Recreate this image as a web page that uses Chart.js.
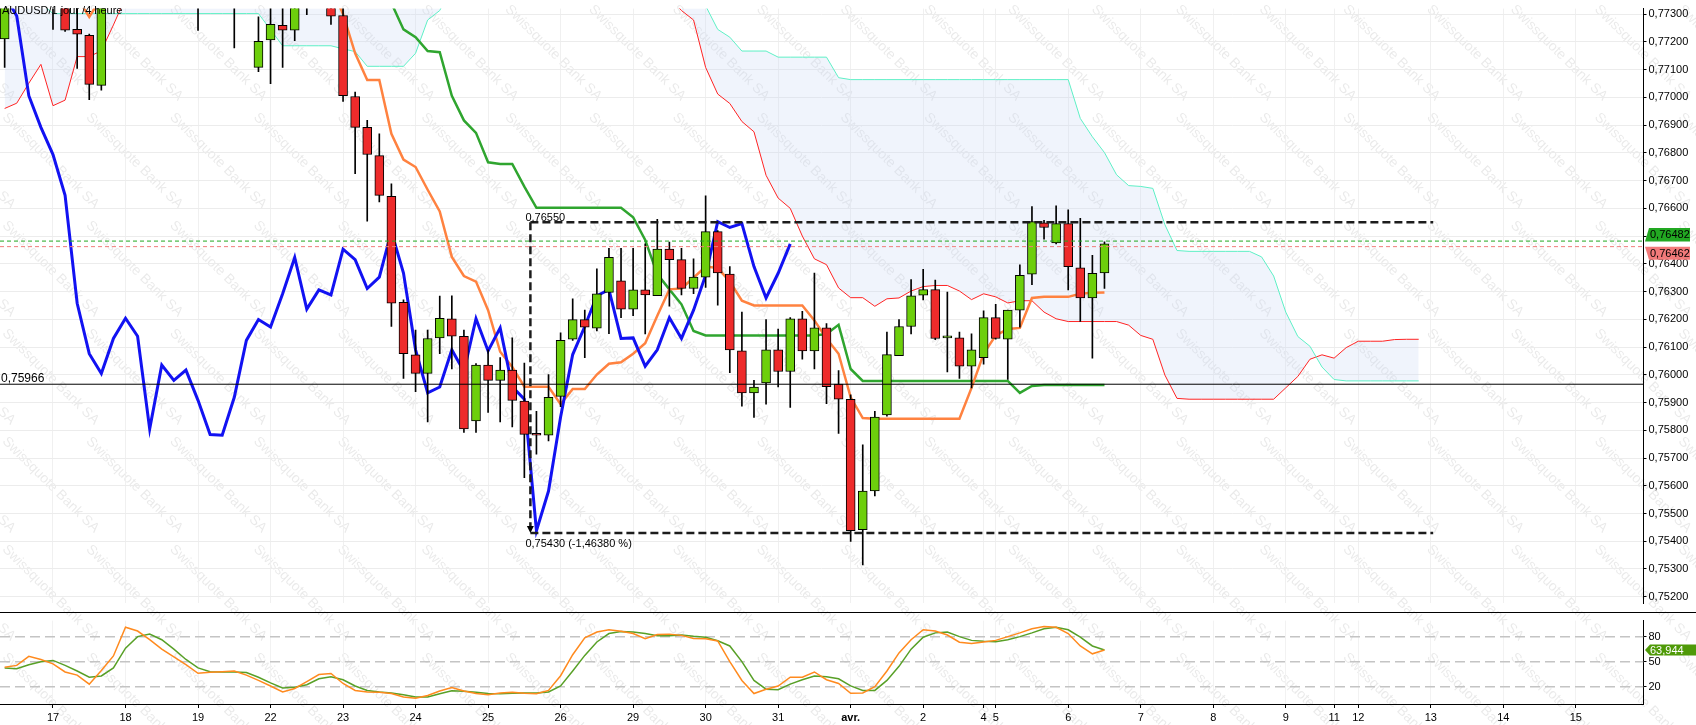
<!DOCTYPE html>
<html lang="fr">
<head>
    <meta charset="UTF-8">
    <title>AUDUSD 4 heures - Ichimoku</title>
    <script src="https://cdn.jsdelivr.net/npm/chart.js@4"></script>
    <style>
        html, body { margin: 0; padding: 0; background: #fff; overflow: hidden; }
        .master { position: relative; width: 1696px; height: 725px; }
        .master canvas { position: absolute; left: 0; }
        #mark { top: 0; }
        #priceChart { top: 0; }
        #stochChart { top: 612px; }
    </style>
</head>
<body>
    <div class="master">
        <canvas id="mark" width="1696" height="725"></canvas>
        <canvas id="priceChart" width="1696" height="612"></canvas>
        <canvas id="stochChart" width="1696" height="113"></canvas>
    </div>

    <script>
        // candle index 0 = first 4h candle of 17 March, one step = 4 hours
        const FIRST = -4;
        const SHIFT = 26;

        const dayTicks  = [0, 6, 12, 18, 24, 30, 36, 42, 48, 54, 60, 66, 72, 77, 78, 84, 90, 96, 102, 106, 108, 114, 120, 126];
        const dayLabels = ['17', '18', '19', '22', '23', '24', '25', '26', '29', '30', '31', 'avr.', '2', '4', '5', '6', '7', '8', '9', '11', '12', '13', '14', '15'];
        const priceTicks = [0.752, 0.753, 0.754, 0.755, 0.756, 0.757, 0.758, 0.759, 0.760, 0.761, 0.762,
                            0.763, 0.764, 0.765, 0.766, 0.767, 0.768, 0.769, 0.770, 0.771, 0.772, 0.773];
        const stochTicks = [20, 50, 80];

        const opens = [
            0.77211, 0.7745, 0.7742, 0.7747, 0.7741, 0.7738, 0.77245, 0.77224, 0.77043, 0.7736,
            0.7742, 0.7747, 0.7744, 0.7740, 0.7743, 0.7739, 0.7737, 0.7735, 0.7738, 0.7736,
            0.7734, 0.77108, 0.77207, 0.7726, 0.77242, 0.7736, 0.7739, 0.7737, 0.77295, 0.77003,
            0.76892, 0.7679, 0.76643, 0.76261, 0.76072, 0.76005, 0.76133, 0.76202, 0.76139, 0.75834,
            0.76035, 0.7598, 0.76017, 0.75905, 0.75783, 0.75782, 0.75922, 0.76128, 0.76199, 0.76168,
            0.76297, 0.76339, 0.76237, 0.76306, 0.76285, 0.76453, 0.76415, 0.76311, 0.76352, 0.76516,
            0.76363, 0.76086, 0.75935, 0.75971, 0.7609, 0.76012, 0.76202, 0.76086, 0.76169, 0.75967,
            0.75912, 0.75442, 0.75581, 0.75855, 0.76069, 0.76174, 0.76287, 0.76307, 0.76133, 0.76133,
            0.76031, 0.76062, 0.76206, 0.76128, 0.76233, 0.76363, 0.76548, 0.76475, 0.76545, 0.76386,
            0.76277, 0.76367
        ];
        const highs = [
            0.7740, 0.7752, 0.7750, 0.7753, 0.7746, 0.7740, 0.7733, 0.77228, 0.7738, 0.7745,
            0.7750, 0.7752, 0.7749, 0.7746, 0.7748, 0.7744, 0.7742, 0.7741, 0.7743, 0.7740,
            0.7739, 0.7729, 0.7733, 0.7734, 0.7738, 0.7741, 0.7744, 0.7740, 0.7734, 0.77019,
            0.76917, 0.76869, 0.76688, 0.7627, 0.76161, 0.76161, 0.76284, 0.76285, 0.76161, 0.7604,
            0.7609, 0.76062, 0.76133, 0.76042, 0.75868, 0.76001, 0.76151, 0.76274, 0.76233, 0.76382,
            0.76456, 0.76456, 0.76456, 0.76472, 0.7656, 0.76478, 0.76456, 0.76418, 0.76645, 0.7652,
            0.7639, 0.76226, 0.7598, 0.76199, 0.76165, 0.76206, 0.76229, 0.76367, 0.76185, 0.76015,
            0.75928, 0.75748, 0.75868, 0.76154, 0.76199, 0.76343, 0.7638, 0.76341, 0.76298, 0.76154,
            0.76148, 0.76231, 0.76254, 0.76233, 0.76396, 0.76606, 0.76557, 0.76609, 0.76595, 0.76564,
            0.76431, 0.76479
        ];
        const lows = [
            0.77108, 0.7738, 0.7737, 0.7739, 0.77245, 0.77238, 0.77104, 0.76992, 0.77026, 0.7734,
            0.7738, 0.7740, 0.7737, 0.7735, 0.7736, 0.7734, 0.77241, 0.7733, 0.7734, 0.77178,
            0.77335, 0.77093, 0.77049, 0.77108, 0.77204, 0.77298, 0.7735, 0.77263, 0.76985, 0.76725,
            0.76554, 0.76623, 0.76174, 0.75987, 0.75939, 0.7583, 0.76076, 0.76021, 0.75792, 0.75792,
            0.75864, 0.7583, 0.75812, 0.75629, 0.75714, 0.75762, 0.75885, 0.76124, 0.76062, 0.76158,
            0.76148, 0.76206, 0.76213, 0.76147, 0.76285, 0.76247, 0.76288, 0.76292, 0.76315, 0.76251,
            0.76008, 0.75887, 0.75846, 0.75894, 0.75956, 0.75882, 0.76056, 0.76021, 0.75896, 0.75789,
            0.75399, 0.75315, 0.75563, 0.75851, 0.76069, 0.76147, 0.7627, 0.76127, 0.7601, 0.75987,
            0.75953, 0.76038, 0.76128, 0.75983, 0.76172, 0.76325, 0.76489, 0.76472, 0.76306, 0.76192,
            0.7606, 0.76311
        ];
        const closes = [
            0.7736, 0.7742, 0.7747, 0.7741, 0.7738, 0.77242, 0.77228, 0.77047, 0.7736, 0.7742,
            0.7747, 0.7744, 0.7740, 0.7743, 0.7739, 0.7737, 0.7735, 0.7738, 0.7736, 0.7734,
            0.7736, 0.77202, 0.77263, 0.77242, 0.7736, 0.7739, 0.7737, 0.77293, 0.77006, 0.76892,
            0.76794, 0.76647, 0.76258, 0.76076, 0.76005, 0.76131, 0.76204, 0.76139, 0.75805, 0.76035,
            0.7598, 0.76017, 0.75908, 0.75785, 0.75782, 0.75919, 0.76124, 0.76199, 0.76172, 0.76292,
            0.76423, 0.76237, 0.76306, 0.76288, 0.76453, 0.76415, 0.76311, 0.76352, 0.76516, 0.76367,
            0.7609, 0.75935, 0.75956, 0.7609, 0.76012, 0.76202, 0.76086, 0.76169, 0.75957, 0.75912,
            0.75438, 0.75581, 0.75848, 0.76073, 0.76174, 0.76285, 0.76307, 0.76131, 0.76133, 0.76031,
            0.7609, 0.76206, 0.76131, 0.76233, 0.76359, 0.76552, 0.76531, 0.76545, 0.7639, 0.76277,
            0.76366, 0.76472
        ];

        const tenkan = [
            0.7748, 0.7748, 0.7748, 0.7748, 0.7748, 0.7748, 0.7736, 0.7729, 0.7736, 0.7748,
            0.7748, 0.7748, 0.7748, 0.7748, 0.7748, 0.7748, 0.7748, 0.7748, 0.7748, 0.7748,
            0.7748, 0.7748, 0.7748, 0.7748, 0.7748, 0.7748, 0.7748, 0.7740, 0.7730, 0.77159,
            0.77063, 0.77063, 0.76869, 0.76776, 0.76749, 0.76667, 0.76589, 0.76425, 0.76356, 0.76336,
            0.76233, 0.76083, 0.76028, 0.75957, 0.75957, 0.75957, 0.75894, 0.75949, 0.75949, 0.76001,
            0.7604, 0.76045, 0.76076, 0.76114, 0.76213, 0.76308, 0.76311, 0.7635, 0.7639, 0.76385,
            0.76336, 0.76267, 0.7625, 0.7625, 0.7625, 0.7625, 0.7625, 0.76196, 0.76131, 0.76076,
            0.75919, 0.75844, 0.75842, 0.75842, 0.75842, 0.75842, 0.75842, 0.75842, 0.75842, 0.75842,
            0.75953, 0.76076, 0.76142, 0.76165, 0.76169, 0.76277, 0.76281, 0.76281, 0.76281, 0.76292,
            0.76296, 0.76297
        ];
        const kijun = [
            0.7750, 0.7750, 0.7750, 0.7750, 0.7750, 0.7750, 0.7750, 0.7750, 0.7750, 0.7750,
            0.7750, 0.7750, 0.7750, 0.7750, 0.7750, 0.7750, 0.7750, 0.7750, 0.7750, 0.7750,
            0.7750, 0.7750, 0.7750, 0.7750, 0.7750, 0.7750, 0.7750, 0.7750, 0.7750, 0.7750,
            0.7750, 0.7750, 0.7734, 0.77245, 0.77217, 0.77167, 0.77163, 0.77006, 0.76917, 0.76872,
            0.76766, 0.7676, 0.7676, 0.76678, 0.76602, 0.76602, 0.76602, 0.76602, 0.76602, 0.76602,
            0.76602, 0.76602, 0.76568, 0.76486, 0.76363, 0.76308, 0.76254, 0.76158, 0.76142, 0.76142,
            0.76142, 0.76142, 0.76142, 0.76142, 0.76142, 0.76142, 0.76142, 0.76142, 0.76147, 0.7618,
            0.76021, 0.75978, 0.75978, 0.75978, 0.75978, 0.75978, 0.75978, 0.75978, 0.75978, 0.75978,
            0.75978, 0.75978, 0.75978, 0.75978, 0.75935, 0.7596, 0.75963, 0.75963, 0.75963, 0.75963,
            0.75963, 0.75963
        ];
        // senkou spans, already plotted 26 candles ahead (index -4 .. 113)
        const senkouA = [
            0.7696, 0.76979, 0.77051, 0.77119, 0.7697, 0.7699, 0.77147, 0.77147, 0.77168, 0.77261,
            0.7736, 0.7745, 0.7746, 0.7747, 0.7748, 0.7748, 0.7747, 0.7746, 0.7745, 0.7745,
            0.7746, 0.7747, 0.7748, 0.7748, 0.7747, 0.7746, 0.7745, 0.7745, 0.7746, 0.7746,
            0.7745, 0.7745, 0.7744, 0.7744, 0.7744, 0.7745, 0.7745, 0.7746, 0.7746, 0.7745,
            0.7745, 0.7744, 0.7744, 0.7743, 0.7743, 0.7743, 0.7742, 0.7742, 0.7742, 0.7741,
            0.7741, 0.7740, 0.7740, 0.7739, 0.7738, 0.7736, 0.77313, 0.77279, 0.77108, 0.77012,
            0.76978, 0.76913, 0.76876, 0.76719, 0.76637, 0.766, 0.765, 0.76418, 0.76397, 0.76313,
            0.76278, 0.76278, 0.76247, 0.76274, 0.76277, 0.76302, 0.76318, 0.76322, 0.76322, 0.76302,
            0.76271, 0.76292, 0.76281, 0.76259, 0.76267, 0.76267, 0.76226, 0.76202, 0.76192, 0.76192,
            0.76192, 0.76192, 0.76192, 0.76179, 0.76142, 0.76128, 0.75999, 0.75915, 0.75912, 0.75912,
            0.75912, 0.75912, 0.75912, 0.75912, 0.75912, 0.75912, 0.75953, 0.75994, 0.76056, 0.76072,
            0.7606, 0.76098, 0.76121, 0.76121, 0.76121, 0.76127, 0.76128, 0.76128
        ];
        const senkouB = [
            0.7740, 0.7740, 0.7740, 0.7734, 0.77302, 0.77302, 0.77302, 0.77302, 0.77302, 0.77302,
            0.77302, 0.77302, 0.77302, 0.77302, 0.77302, 0.77302, 0.77302, 0.77302, 0.77302, 0.77302,
            0.77302, 0.77302, 0.77244, 0.77186, 0.77186, 0.77186, 0.77186, 0.77186, 0.77175, 0.77165,
            0.77112, 0.77112, 0.77112, 0.77112, 0.77159, 0.77279, 0.77313, 0.7740, 0.7740, 0.7740,
            0.7740, 0.7740, 0.7740, 0.7740, 0.7740, 0.7740, 0.7740, 0.7740, 0.7740, 0.7740,
            0.7740, 0.7740, 0.7740, 0.7740, 0.7740, 0.7740, 0.7740, 0.7740, 0.7733, 0.77245,
            0.77217, 0.77167, 0.77167, 0.77167, 0.77145, 0.77145, 0.77145, 0.77145, 0.77145, 0.77071,
            0.77064, 0.77064, 0.77064, 0.77064, 0.77064, 0.77064, 0.77064, 0.77064, 0.77064, 0.77064,
            0.77064, 0.77064, 0.77064, 0.77064, 0.77064, 0.77064, 0.77064, 0.77064, 0.77064, 0.76924,
            0.76858, 0.76801, 0.76721, 0.76682, 0.76679, 0.76672, 0.76541, 0.76448, 0.76445, 0.76445,
            0.76445, 0.76445, 0.76445, 0.76445, 0.76425, 0.76356, 0.76226, 0.76138, 0.76103, 0.76028,
            0.75983, 0.75978, 0.75978, 0.75978, 0.75978, 0.75978, 0.75978, 0.75978
        ];

        const stochK = [
            43.3, 45.5, 56.4, 52.6, 47.4, 37.6, 33.9, 23, 39.5, 56.8,
            91.2, 86.7, 76.3, 65, 55.6, 46.3, 36.1, 37.3, 38, 38.8,
            33.9, 27.5, 20.8, 13.6, 17.8, 26, 34.6, 35.8, 23.8, 15.5,
            13.6, 13.3, 11.8, 7.6, 6.1, 9.5, 14.8, 18.9, 14.8, 11.8,
            10.3, 12.5, 13.3, 12.1, 11.4, 15.5, 33.1, 58.3, 78.5, 85.6,
            88.2, 86.4, 83.7, 77.4, 82.6, 83, 81.5, 77.8, 77.4, 74.8,
            50, 27.5, 11.8, 17, 20.8, 31.3, 31.3, 37.6, 28.3, 23.8,
            12, 12.5, 20, 38.8, 60.5, 76.3, 88.2, 86.7, 81.9, 73.3,
            71.8, 73.6, 75.5, 80, 84.5, 89.4, 92, 91.2, 83.7, 68.8,
            59.4, 63.9
        ];
        const stochD = [
            42.5, 41.4, 46.3, 50, 51.5, 45.5, 38.8, 31.3, 32.8, 42.5,
            66.1, 80, 83, 76.3, 65, 52.6, 42.5, 38, 37.6, 37.6,
            36.9, 31.3, 24.5, 18.5, 19.3, 22.3, 29.4, 32, 28.3, 20.8,
            15.5, 13.6, 12.5, 10.3, 7.6, 7.6, 11.4, 15.1, 14.4, 13.3,
            11.8, 11.4, 12.1, 12.5, 12.5, 13.6, 20.8, 38.8, 57.5, 73.6,
            83.7, 86, 85.6, 83.7, 81.1, 81.1, 81.9, 80.4, 79.3, 75.1,
            68.8, 50, 27.5, 17, 16.3, 23, 28.3, 32.8, 32, 29.4,
            21, 15.5, 15.5, 27.5, 44.4, 65, 79.3, 84.5, 85.6, 80,
            75.5, 74.4, 74, 76.3, 80, 84.5, 89.4, 91.2, 88.2, 79.3,
            68.8, 63.944
        ];

        const levelLine = 0.75966;
        const rangeHigh = 0.7655;
        const rangeLow = 0.7543;
        const rangeFrom = 39.5;
        const rangeTo = 114.2;
        const rangeLabels = ['0,76550', '0,75430 (-1,46380 %)'];
        const askPrice = 0.76482;
        const bidPrice = 0.76462;
        const stochLast = 63.944;

        const X_MIN = -4.385, X_MAX = 131.6;
        const Y_MIN = 0.75176, Y_MAX = 0.7732;
        const AXIS_W = 52.5;
        const FONT = '"Liberation Sans", Arial, sans-serif';

        Chart.defaults.font.family = FONT;
        Chart.defaults.font.size = 11;
        Chart.defaults.color = '#000';

        const fmt = (v, d) => v.toFixed(d).replace('.', ',');
        const series = (arr, shift) => arr.map((v, i) => ({ x: FIRST + i - (shift || 0), y: v }));
        const flat = (v, a, b) => [{ x: a, y: v }, { x: b, y: v }];

        // watermark, behind both panels
        (function drawMark() {
            const c = document.getElementById('mark').getContext('2d');
            c.font = '14px ' + FONT;
            c.fillStyle = 'rgba(0,0,0,0.085)';
            for (let gx = 1.7 - 83.8 * 2; gx < 1720; gx += 83.8) {
                for (let gy = -108; gy < 760; gy += 108) {
                    c.save();
                    c.translate(gx, gy + 10);
                    c.rotate(0.78);
                    c.fillText('Swissquote Bank SA', 0, 0);
                    c.restore();
                }
            }
        })();

        const lineDs = (label, data, color, width, order, extra) => Object.assign({
            type: 'line', label, data, borderColor: color, borderWidth: width,
            pointRadius: 0, tension: 0, fill: false, order
        }, extra || {});

        const overlayPlugin = {
            id: 'overlay',
            afterDraw(chart) {
                const { ctx, scales: { x, y } } = chart;
                ctx.save();
                ctx.fillStyle = '#000';
                ctx.font = '11px ' + FONT;
                ctx.fillText('AUDUSD/1 jour /4 heure', 2, 13.5);

                const rx = x.getPixelForValue(rangeFrom);
                const hy = y.getPixelForValue(rangeHigh);
                const ly = y.getPixelForValue(rangeLow);
                ctx.fillText(rangeLabels[0], rx - 5, hy - 1.5);
                ctx.fillText(rangeLabels[1], rx - 5, ly + 14);
                ctx.beginPath();
                ctx.moveTo(rx - 3.5, ly - 7);
                ctx.lineTo(rx + 3.5, ly - 7);
                ctx.lineTo(rx, ly);
                ctx.closePath();
                ctx.fill();

                ctx.font = '12px ' + FONT;
                ctx.fillText(fmt(levelLine, 5), 1, y.getPixelForValue(levelLine) - 2);

                // last price tags on the axis
                const L = chart.chartArea.right + 1.5;
                const ay = y.getPixelForValue(askPrice);
                ctx.fillStyle = '#22a822';
                ctx.beginPath();
                ctx.moveTo(L, ay + 0.5); ctx.lineTo(L + 4, ay - 13); ctx.lineTo(1690, ay - 13); ctx.lineTo(1690, ay + 0.5);
                ctx.closePath(); ctx.fill();
                const by = y.getPixelForValue(bidPrice);
                ctx.fillStyle = '#f27a7a';
                ctx.beginPath();
                ctx.moveTo(L, by); ctx.lineTo(1690, by); ctx.lineTo(1690, by + 13); ctx.lineTo(L + 4, by + 13);
                ctx.closePath(); ctx.fill();
                ctx.fillStyle = '#000';
                ctx.font = '11px ' + FONT;
                ctx.textBaseline = 'middle';
                ctx.fillText(fmt(askPrice, 5), L + 5, ay - 6);
                ctx.fillText(fmt(bidPrice, 5), L + 5, by + 7);
                ctx.restore();
            }
        };

        new Chart(document.getElementById('priceChart'), {
            type: 'line',
            data: {
                datasets: [
                    lineDs('Senkou A', series(senkouA), '#ff2424', 1, 12,
                        { fill: '+1', backgroundColor: 'rgba(200,215,245,0.27)' }),
                    lineDs('Senkou B', series(senkouB), '#5ef0c6', 1, 11),
                    lineDs('Kijun', series(kijun), '#2fa52f', 2.5, 10),
                    lineDs('Tenkan', series(tenkan), '#ff8240', 2.5, 9),
                    lineDs('Chikou', series(closes, SHIFT), '#1212f2', 3, 8),
                    {
                        type: 'bar', label: 'wicks', order: 3, grouped: false,
                        data: highs.map((h, i) => ({ x: FIRST + i, y: [lows[i], h] })),
                        backgroundColor: '#000', borderWidth: 0, barThickness: 1
                    },
                    {
                        type: 'bar', label: 'AUDUSD', order: 2, grouped: false,
                        data: opens.map((o, i) => ({ x: FIRST + i, y: [o, closes[i]] })),
                        backgroundColor: opens.map((o, i) => closes[i] >= o ? '#6dcf0c' : '#ee2b2b'),
                        borderColor: '#000', borderWidth: 1, borderSkipped: false,
                        barThickness: 9, minBarLength: 2
                    },
                    lineDs('level', flat(levelLine, X_MIN, X_MAX), '#000', 1, 1),
                    lineDs('ask', flat(askPrice, X_MIN, X_MAX), '#1fa81f', 1, 0, { borderDash: [4, 3] }),
                    lineDs('bid', flat(bidPrice, X_MIN, X_MAX), '#f07c7c', 1, 0, { borderDash: [4, 3] }),
                    lineDs('range high', flat(rangeHigh, rangeFrom, rangeTo), '#1c1c1c', 2.5, -1, { borderDash: [8, 4] }),
                    lineDs('range low', flat(rangeLow, rangeFrom, rangeTo), '#1c1c1c', 2.5, -1, { borderDash: [8, 4] }),
                    lineDs('range span', [{ x: rangeFrom, y: rangeHigh }, { x: rangeFrom, y: rangeLow }], '#1c1c1c', 2.5, -1, { borderDash: [8, 4] })
                ]
            },
            options: {
                responsive: false,
                animation: false,
                devicePixelRatio: 1,
                events: [],
                layout: { padding: 0 },
                plugins: { legend: { display: false }, tooltip: { enabled: false } },
                scales: {
                    x: {
                        type: 'linear', min: X_MIN, max: X_MAX, offset: false,
                        afterBuildTicks: s => { s.ticks = dayTicks.map(v => ({ value: v })); },
                        ticks: { display: false },
                        grid: { color: '#f0f0f0', drawTicks: false, offset: false },
                        border: { display: false },
                        afterFit: s => { s.height = 0; }
                    },
                    y: {
                        position: 'right', min: Y_MIN, max: Y_MAX,
                        afterBuildTicks: s => { s.ticks = priceTicks.map(v => ({ value: v })); },
                        ticks: { autoSkip: false, padding: 2, callback: v => fmt(v, 5) },
                        grid: { color: '#ececec', tickColor: '#000', tickLength: 3 },
                        border: { color: '#000', width: 1 },
                        afterFit: s => { s.width = AXIS_W; }
                    }
                }
            },
            plugins: [overlayPlugin]
        });

        const stochPlugin = {
            id: 'stochOverlay',
            afterDraw(chart) {
                const { ctx, scales: { y } } = chart;
                ctx.save();
                ctx.fillStyle = '#000';
                ctx.fillRect(0, 0, 1696, 1);
                const L = chart.chartArea.right + 1.5;
                const ty = y.getPixelForValue(stochLast);
                ctx.fillStyle = '#4f9a08';
                ctx.beginPath();
                ctx.moveTo(L, ty); ctx.lineTo(L + 5, ty - 5.5); ctx.lineTo(1696, ty - 5.5);
                ctx.lineTo(1696, ty + 5.5); ctx.lineTo(L + 5, ty + 5.5);
                ctx.closePath(); ctx.fill();
                ctx.fillStyle = '#fff';
                ctx.font = '11px ' + FONT;
                ctx.textBaseline = 'middle';
                ctx.fillText(fmt(stochLast, 3), L + 5, ty + 0.5);
                ctx.restore();
            }
        };

        new Chart(document.getElementById('stochChart'), {
            type: 'line',
            data: {
                datasets: [
                    lineDs('80', flat(80, X_MIN, X_MAX), '#c4c4c4', 1.5, 5, { borderDash: [10, 5] }),
                    lineDs('50', flat(50, X_MIN, X_MAX), '#c4c4c4', 1.5, 5, { borderDash: [10, 5] }),
                    lineDs('20', flat(20, X_MIN, X_MAX), '#c4c4c4', 1.5, 5, { borderDash: [10, 5] }),
                    lineDs('%D', series(stochD), '#58a027', 1.5, 2),
                    lineDs('%K', series(stochK), '#ff8a1e', 1.5, 1)
                ]
            },
            options: {
                responsive: false,
                animation: false,
                devicePixelRatio: 1,
                events: [],
                layout: { padding: { top: 2, left: 0, right: 0, bottom: 0 } },
                plugins: { legend: { display: false }, tooltip: { enabled: false } },
                scales: {
                    x: {
                        type: 'linear', min: X_MIN, max: X_MAX, offset: false,
                        afterBuildTicks: s => { s.ticks = dayTicks.map(v => ({ value: v })); },
                        ticks: {
                            autoSkip: false, maxRotation: 0, minRotation: 0, padding: 3,
                            font: ctx => ({ family: FONT, size: 11, weight: dayLabels[ctx.index] === 'avr.' ? 'bold' : 'normal' }),
                            callback: (v, i) => dayLabels[i]
                        },
                        grid: { color: '#f2f2f2', tickColor: '#000', tickLength: 4, offset: false },
                        border: { color: '#000', width: 1 },
                        afterFit: s => { s.height = 21; }
                    },
                    y: {
                        position: 'right', min: -0.78, max: 99.22,
                        afterBuildTicks: s => { s.ticks = stochTicks.map(v => ({ value: v })); },
                        ticks: { autoSkip: false, padding: 2 },
                        grid: { drawOnChartArea: false, tickColor: '#000', tickLength: 3 },
                        border: { color: '#000', width: 1 },
                        afterFit: s => { s.width = AXIS_W; }
                    }
                }
            },
            plugins: [stochPlugin]
        });
    </script>
</body>
</html>
